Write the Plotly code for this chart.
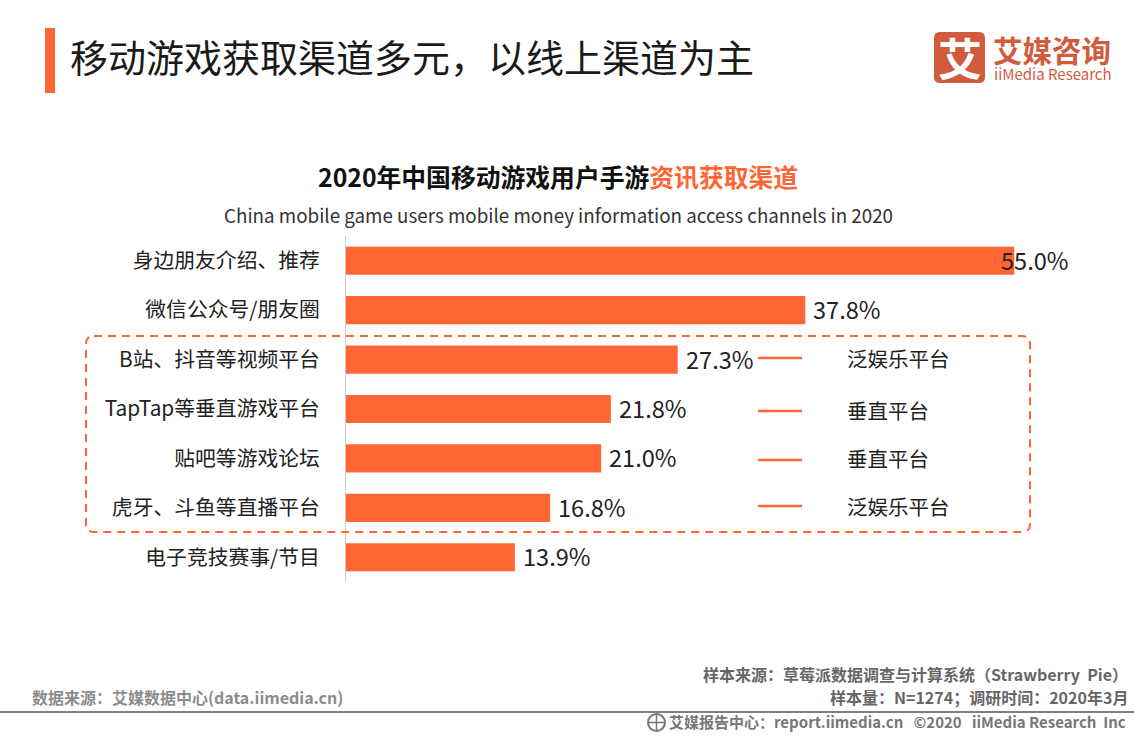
import plotly.graph_objects as go

W, H = 1134, 737
ORANGE = "#FF6633"
FONT = "Noto Sans CJK SC"

channels = ["身边朋友介绍、推荐", "微信公众号/朋友圈", "B站、抖音等视频平台", "TapTap等垂直游戏平台",
            "贴吧等游戏论坛", "虎牙、斗鱼等直播平台", "电子竞技赛事/节目"]
shares = [55.0, 37.8, 27.3, 21.8, 21.0, 16.8, 13.9]
platform_types = ["泛娱乐平台", "垂直平台", "垂直平台", "泛娱乐平台"]


def px(x):
    return x / W


def py(y):
    return 1 - y / H


def label(x, y, text, size, color="#222222", anchor="left", **kw):
    return dict(xref="paper", yref="paper", x=px(x), y=py(y), text=text, showarrow=False,
                xanchor=anchor, yanchor="middle", align=anchor,
                font=dict(family=FONT, size=size, color=color), **kw)


fig = go.Figure()
fig.add_trace(go.Bar(x=shares, y=channels, orientation="h", marker=dict(color=ORANGE, line_width=0),
                     hoverinfo="skip"))

annotations = []
# 55.0% 这一条的标签压在柱子上，其余放在柱子外
for i, (name, v) in enumerate(zip(channels, shares)):
    annotations.append(dict(xref="x", yref="y", x=v, y=name, text=f"{v:.1f}%", showarrow=False,
                            xanchor="left", yanchor="middle", xshift=-15 if i == 0 else 6, yshift=1,
                            font=dict(family=FONT, size=23.6, color="#222222")))

annotations += [
    label(68, 56, "移动游戏获取渠道多元，以线上渠道为主", 38, "#1a1a1a"),
    label(557.5, 176, "<b>2020年中国移动游戏用户手游<span style='color:#FF6633'>资讯获取渠道</span></b>", 24.8, "#111111", "center"),
    label(558, 214, "China mobile game users mobile money information access channels in 2020", 18.8, "#333333", "center"),
    label(959.5, 57, "<b>艾</b>", 44, "white", "center"),
    label(991, 49, "<b>艾媒咨询</b>", 29.5, "#D25B3E"),
    label(992, 74, "iiMedia Research", 15, "#D25B3E"),
    label(1130, 674, "<b>样本来源：草莓派数据调查与计算系统（Strawberry  Pie）</b>", 16, "#666666", "right"),
    label(1130, 697, "<b>样本量：N=1274；调研时间：2020年3月</b>", 16, "#666666", "right"),
    label(30, 697, "<b>数据来源：艾媒数据中心(data.iimedia.cn)</b>", 16, "#8c8c8c"),
    label(667, 721, "<b>艾媒报告中心：report.iimedia.cn&nbsp;&nbsp;&nbsp;©2020&nbsp;&nbsp;&nbsp;iiMedia Research&nbsp;&nbsp;Inc</b>", 15, "#777777"),
]

type_y = [358, 410, 458, 506]
line_y = [358, 411, 460, 506]
for t, ty in zip(platform_types, type_y):
    annotations.append(label(845, ty, t, 20.5, "#222222"))

shapes = [
    dict(type="rect", xref="paper", yref="paper", x0=px(45), x1=px(55), y0=py(28), y1=py(93),
         fillcolor=ORANGE, line_width=0),
    dict(type="path", xref="paper", yref="paper", fillcolor="#D25B3E", line_width=0,
         path=f"M {px(940)} {py(32)} L {px(979)} {py(32)} Q {px(985)} {py(32)} {px(985)} {py(38)} "
              f"L {px(985)} {py(77)} Q {px(985)} {py(83)} {px(979)} {py(83)} L {px(940)} {py(83)} "
              f"Q {px(934)} {py(83)} {px(934)} {py(77)} L {px(934)} {py(38)} Q {px(934)} {py(32)} {px(940)} {py(32)} Z"),
    # 虚线圆角框
    dict(type="path", xref="paper", yref="paper", line=dict(color=ORANGE, width=2, dash="8px,6px"),
         path=f"M {px(94)} {py(336)} L {px(1022)} {py(336)} Q {px(1030)} {py(336)} {px(1030)} {py(344)} "
              f"L {px(1030)} {py(524)} Q {px(1030)} {py(532)} {px(1022)} {py(532)} L {px(94)} {py(532)} "
              f"Q {px(86)} {py(532)} {px(86)} {py(524)} L {px(86)} {py(344)} Q {px(86)} {py(336)} {px(94)} {py(336)} Z"),
    # 底部分隔线
    dict(type="line", xref="paper", yref="paper", x0=0, x1=1, y0=py(712), y1=py(712),
         line=dict(color="#808080", width=2)),
    # 地球图标
    dict(type="circle", xref="paper", yref="paper", x0=px(648), x1=px(665), y0=py(714), y1=py(731),
         line=dict(color="#777777", width=2)),
    dict(type="line", xref="paper", yref="paper", x0=px(648), x1=px(665), y0=py(722.5), y1=py(722.5),
         line=dict(color="#777777", width=1.5)),
    dict(type="line", xref="paper", yref="paper", x0=px(656.5), x1=px(656.5), y0=py(714), y1=py(731),
         line=dict(color="#777777", width=1.5)),
]
for ly in line_y:
    shapes.append(dict(type="line", xref="paper", yref="paper", x0=px(758), x1=px(802), y0=py(ly), y1=py(ly),
                       line=dict(color=ORANGE, width=2.5)))

fig.update_layout(
    width=W, height=H,
    margin=dict(l=0, r=0, t=0, b=0),
    paper_bgcolor="white", plot_bgcolor="white",
    showlegend=False,
    bargap=0.43,
    annotations=annotations,
    shapes=shapes,
)
fig.update_xaxes(domain=[px(346), px(1075)], range=[0, 60], visible=False)
fig.update_yaxes(domain=[py(582), py(236)], autorange="reversed", categoryorder="array", categoryarray=channels,
                 showline=True, linecolor="#CCCCCC", linewidth=1, ticks="", ticklabelstandoff=21, showgrid=False,
                 tickfont=dict(family=FONT, size=20.8, color="#222222"))

fig.write_html("out.html", config=dict(displayModeBar=False),
               post_script="document.body.style.margin='0';document.body.style.overflow='hidden';")
